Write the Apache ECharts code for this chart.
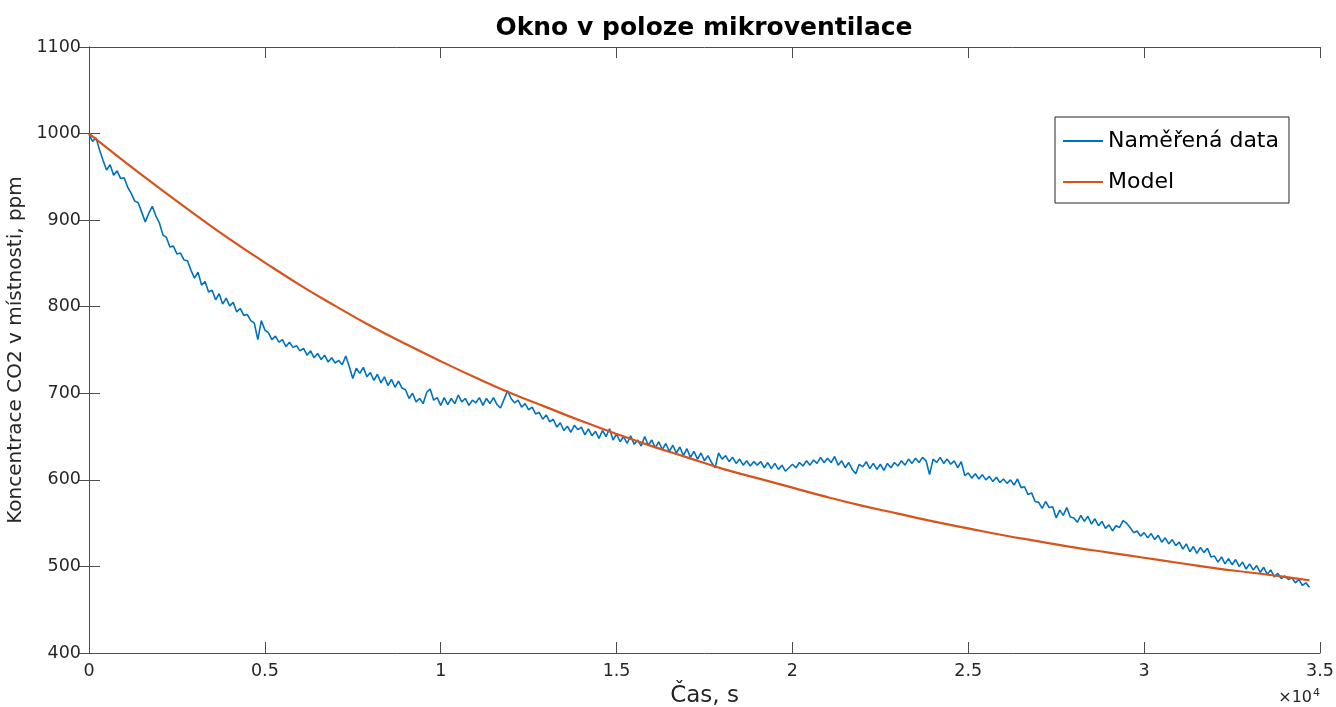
<!DOCTYPE html>
<html>
<head>
<meta charset="utf-8">
<title>Okno v poloze mikroventilace</title>
<script src="https://cdn.jsdelivr.net/npm/echarts@6/dist/echarts.min.js"></script>
<style>
    html, body { margin: 0; padding: 0; background: #fff; }
    #chart { width: 1336px; height: 707px; }
</style>
</head>
<body>
<div id="chart"></div>
<script>
// measured CO2 (ppm), one sample every 100 s starting at t = 0
const measuredStep = 100;
const measuredValues = [
    999, 991, 995, 981, 969, 958, 964, 952, 957, 948,
    949, 938, 931, 922, 920, 909, 898, 908, 916, 905,
    897, 883, 880, 869, 870, 861, 862, 854, 853, 842,
    833, 840, 825, 829, 817, 819, 808, 815, 803, 810,
    801, 805, 794, 798, 790, 791, 784, 781, 762, 784,
    773, 770, 762, 766, 759, 762, 754, 759, 753, 755,
    749, 752, 744, 749, 741, 746, 739, 744, 736, 741,
    735, 738, 733, 743, 731, 717, 729, 723, 730, 719,
    724, 715, 722, 712, 719, 709, 716, 707, 714, 706,
    704, 694, 700, 690, 694, 688, 701, 705, 692, 695,
    686, 695, 687, 694, 688, 698, 690, 694, 686, 692,
    689, 695, 686, 694, 688, 695, 687, 683, 693, 703,
    694, 689, 692, 684, 688, 681, 684, 676, 678, 670,
    675, 667, 670, 661, 666, 657, 662, 655, 663, 658,
    661, 652, 659, 651, 656, 648, 657, 650, 659, 646,
    653, 644, 650, 642, 651, 641, 646, 639, 650, 640,
    646, 637, 644, 635, 642, 633, 640, 631, 638, 628,
    636, 626, 633, 624, 631, 622, 628, 620, 614, 631,
    624, 628, 621, 626, 619, 624, 617, 622, 616, 621,
    617, 621, 614, 620, 613, 619, 612, 617, 610, 614,
    618, 614, 620, 616, 622, 617, 623, 619, 626, 620,
    625, 620, 627, 617, 622, 614, 620, 612, 607, 618,
    615, 621, 613, 619, 612, 618, 611, 619, 614, 620,
    616, 622, 617, 624, 619, 625, 620, 626, 622, 606,
    624, 620, 626, 619, 624, 618, 622, 614, 621, 605,
    608, 602, 607, 601, 606, 600, 604, 598, 603, 597,
    601, 596, 600, 594, 601, 591, 592, 583, 585, 575,
    574, 567, 575, 568, 569, 556, 565, 559, 568, 557,
    556, 551, 559, 552, 558, 549, 555, 547, 552, 544,
    548, 541, 547, 545, 553, 550, 545, 539, 541, 535,
    539, 533, 538, 531, 536, 528, 533, 526, 531, 524,
    528, 520, 526, 517, 523, 515, 522, 516, 521, 511,
    512, 505, 511, 503, 509, 502, 508, 500, 505, 497,
    503, 496, 501, 493, 499, 491, 496, 488, 492, 486,
    489, 485, 487, 481, 485, 478, 481, 476
];

const modelTimes = [
    0, 1000, 2000, 3000, 4000, 5000, 6000, 7000, 8000, 9000,
    10000, 11000, 12000, 13000, 14000, 15000, 16000, 17000, 18000, 19000,
    20000, 21000, 22000, 23000, 24000, 25000, 26000, 27000, 28000, 29000,
    30000, 31000, 32000, 33000, 34000, 34700
];
const modelValues = [
    1000, 968, 937, 907, 878, 851, 825, 801, 778, 757,
    737, 718, 700, 684, 668, 653, 639, 626, 613, 602,
    591, 580, 570, 561, 552, 544, 536, 529, 522, 516,
    510, 504, 498, 493, 488, 484
];

const xTicks = { min: 0, max: 35000, interval: 5000, scale: 10000 };
const yTicks = { min: 400, max: 1100, interval: 100 };

const seriesNames = ["Naměřená data", "Model"];

const chart = echarts.init(document.getElementById("chart"), null, { renderer: "canvas" });

const font = "DejaVu Sans";
const axisColor = "#4d4d4d";
const textColor = "#262626";

const measured = measuredValues.map((v, i) => [i * measuredStep, v]);
const model = modelTimes.map((t, i) => [t, modelValues[i]]);

const xBase = {
    type: "value",
    min: xTicks.min,
    max: xTicks.max,
    interval: xTicks.interval,
    splitLine: { show: false },
    axisLine: { show: true, lineStyle: { color: axisColor, width: 1 } },
    axisTick: { show: true, inside: true, length: 11, lineStyle: { color: axisColor } }
};
const yBase = {
    type: "value",
    min: yTicks.min,
    max: yTicks.max,
    interval: yTicks.interval,
    splitLine: { show: false },
    axisLine: { show: true, lineStyle: { color: axisColor, width: 1 } },
    axisTick: { show: true, inside: true, length: 11, lineStyle: { color: axisColor } }
};

chart.setOption({
    animation: false,
    backgroundColor: "#fff",
    title: {
        text: "Okno v poloze mikroventilace",
        left: 704,
        top: 16,
        padding: 0,
        textAlign: "center",
        textStyle: { fontFamily: font, fontSize: 25, fontWeight: "bold", color: "#000" }
    },
    grid: {
        left: 89,
        right: 16,
        top: 47,
        bottom: 54,
        containLabel: false,
        outerBoundsMode: "none"
    },
    legend: {
        data: seriesNames.map((name) => ({ name: name, icon: "rect" })),
        orient: "vertical",
        left: 1055,
        top: 117,
        padding: [13, 10, 10, 8],
        itemWidth: 40,
        itemHeight: 2,
        itemGap: 19,
        borderColor: "#262626",
        borderWidth: 1,
        backgroundColor: "#fff",
        textStyle: { fontFamily: font, fontSize: 22, color: "#000" }
    },
    xAxis: [
        Object.assign({}, xBase, {
            position: "bottom",
            name: "Čas, s",
            nameLocation: "middle",
            nameGap: 24,
            nameTextStyle: { fontFamily: font, fontSize: 23, color: textColor },
            axisLabel: {
                margin: 9,
                fontFamily: font,
                fontSize: 17.5,
                color: textColor,
                formatter: (v) => String(v / xTicks.scale)
            }
        }),
        Object.assign({}, xBase, { position: "top", axisLabel: { show: false } })
    ],
    yAxis: [
        Object.assign({}, yBase, {
            position: "left",
            name: "Koncentrace CO2 v místnosti, ppm",
            nameLocation: "middle",
            nameGap: 43,
            nameTextStyle: { fontFamily: font, fontSize: 20, color: textColor },
            axisLabel: {
                margin: 8,
                fontFamily: font,
                fontSize: 17.5,
                color: textColor,
                formatter: (v) => String(v)
            }
        }),
        Object.assign({}, yBase, { position: "right", axisLabel: { show: false } })
    ],
    graphic: [
        {
            type: "text",
            right: 16,
            top: 688,
            style: {
                text: "×10{sup|4}",
                fontFamily: font,
                fontSize: 16,
                fill: textColor,
                rich: { sup: { fontFamily: font, fontSize: 11, fill: textColor, verticalAlign: "top", padding: [0, 0, 8, 1] } }
            }
        }
    ],
    series: [
        {
            name: seriesNames[0],
            type: "line",
            data: measured,
            showSymbol: false,
            symbol: "none",
            lineStyle: { color: "#0072BD", width: 1.6 },
            itemStyle: { color: "#0072BD" },
            z: 2
        },
        {
            name: seriesNames[1],
            type: "line",
            data: model,
            smooth: true,
            showSymbol: false,
            symbol: "none",
            lineStyle: { color: "#D95319", width: 2.2 },
            itemStyle: { color: "#D95319" },
            z: 3
        }
    ]
});
</script>
</body>
</html>
